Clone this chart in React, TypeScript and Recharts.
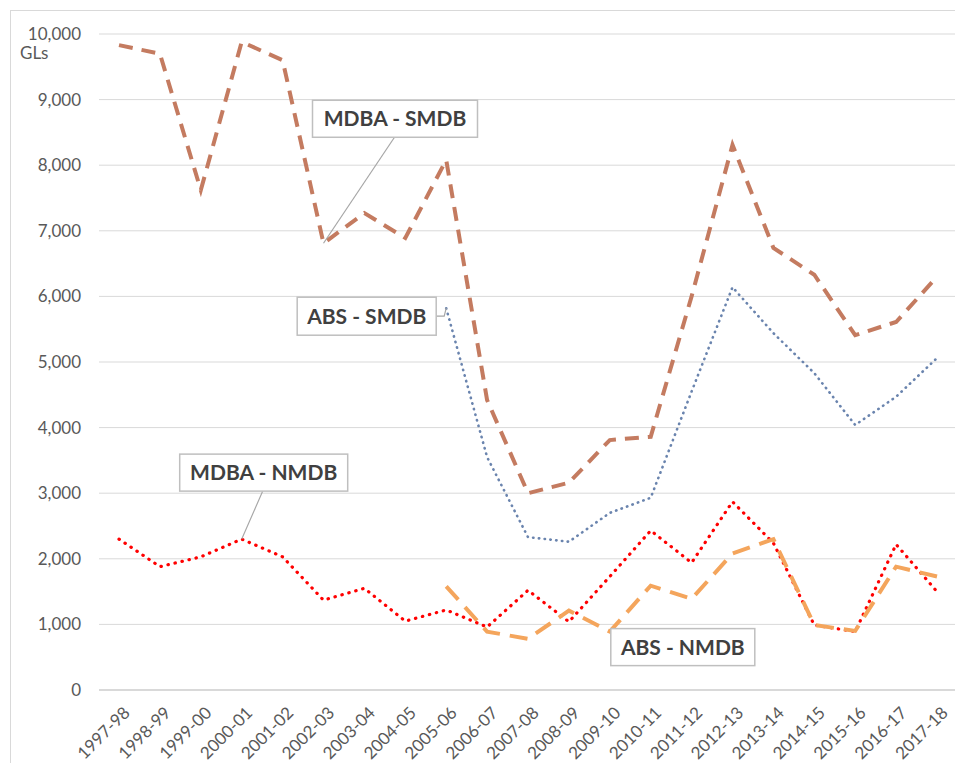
import React from 'react';
import { LineChart, Line, XAxis, YAxis, CartesianGrid } from 'recharts';

const years = [
  '1997-98', '1998-99', '1999-00', '2000-01', '2001-02', '2002-03', '2003-04',
  '2004-05', '2005-06', '2006-07', '2007-08', '2008-09', '2009-10', '2010-11',
  '2011-12', '2012-13', '2013-14', '2014-15', '2015-16', '2016-17', '2017-18',
];

const mdbaSmdb = [
  9830, 9700, 7620, 9880, 9600, 6810, 7270, 6890, 8080, 4420, 3000,
  3160, 3810, 3860, 6000, 8310, 6740, 6330, 5410, 5610, 6300,
];

const absSmdb = [
  null, null, null, null, null, null, null, null, 5820, 3550, 2330,
  2260, 2700, 2930, 4550, 6140, 5440, 4830, 4040, 4470, 5060,
];

const mdbaNmdb = [
  2300, 1880, 2030, 2300, 2030, 1370, 1550, 1050, 1220, 960, 1520,
  1040, 1730, 2430, 1940, 2870, 2240, 990, 890, 2220, 1500,
];

const absNmdb = [
  null, null, null, null, null, null, null, null, 1580, 890, 780,
  1210, 890, 1590, 1390, 2080, 2300, 990, 900, 1880, 1730,
];

const yTicks = [0, 1000, 2000, 3000, 4000, 5000, 6000, 7000, 8000, 9000, 10000];

const data = years.map((year, i) => ({
  year,
  mdbaSmdb: mdbaSmdb[i],
  absSmdb: absSmdb[i],
  mdbaNmdb: mdbaNmdb[i],
  absNmdb: absNmdb[i],
}));

const FONT = 'Lato, "Open Sans", sans-serif';
const TEXT = '#595959';

// callout box drawn next to one point of a series, offsets are relative to that point
const makeCallout = (
  target: number,
  text: string,
  box: { dx: number; dy: number; w: number; h: number },
  leader?: string
) => (props: any) => {
  const { x, y, index } = props;
  if (index !== target || x == null || y == null) return null;
  return (
    <g transform={`translate(${x},${y})`}>
      {leader && <path d={leader} fill="none" stroke="#A6A6A6" strokeWidth={1.2} />}
      <rect x={box.dx} y={box.dy} width={box.w} height={box.h} fill="#fff" stroke="#BFBFBF" strokeWidth={1.5} />
      <text
        x={box.dx + box.w / 2}
        y={box.dy + box.h / 2}
        dy="0.36em"
        textAnchor="middle"
        fontFamily={FONT}
        fontWeight="bold"
        fontSize={21}
        fill="#404040"
      >
        {text}
      </text>
    </g>
  );
};

const XTick = ({ x, y, payload }: any) => (
  <g transform={`translate(${x + 2},${y + 6})`}>
    <text x={0} y={0} dy={14} textAnchor="end" transform="rotate(-45)" fontFamily={FONT} fontSize={17} fill={TEXT}>
      {payload.value}
    </text>
  </g>
);

export default function App() {
  return (
    <div style={{ position: 'absolute', left: 0, top: 0, width: 955, height: 763, background: '#fff', overflow: 'hidden' }}>
      <div style={{ position: 'absolute', left: 10, top: 10, width: 960, height: 770, borderLeft: '1px solid #D9D9D9', borderTop: '1px solid #D9D9D9' }} />
      <div style={{ position: 'absolute', left: 20, top: 42, fontFamily: FONT, fontSize: 17, color: TEXT }}>GLs</div>
      <LineChart width={955} height={763} data={data} margin={{ top: 34, right: 0, bottom: 0, left: 0 }}>
        <CartesianGrid vertical={false} stroke="#D9D9D9" strokeWidth={1} />
        <XAxis
          dataKey="year"
          height={73}
          interval={0}
          padding={{ left: 20, right: 18 }}
          tickLine={false}
          axisLine={{ stroke: '#D9D9D9', strokeWidth: 2 }}
          tick={<XTick />}
        />
        <YAxis
          width={99}
          domain={[0, 10000]}
          ticks={yTicks}
          interval={0}
          tickLine={false}
          axisLine={false}
          tickMargin={12}
          tick={{ fontFamily: FONT, fontSize: 17, fill: TEXT }}
          tickFormatter={(v: number) => v.toLocaleString('en-US')}
        />
        <Line
          dataKey="mdbaSmdb"
          stroke="#C47B60"
          strokeWidth={4}
          strokeDasharray="14 9"
          dot={false}
          isAnimationActive={false}
          label={makeCallout(5, 'MDBA - SMDB', { dx: -11, dy: -143, w: 165, h: 37 }, 'M71,-106 L0,0')}
        />
        <Line
          dataKey="absSmdb"
          stroke="#6A84AE"
          strokeWidth={2.6}
          strokeLinecap="round"
          strokeDasharray="0.4 5.4"
          dot={false}
          isAnimationActive={false}
          label={makeCallout(8, 'ABS - SMDB', { dx: -149, dy: -11, w: 139, h: 38 }, 'M-10,8 L-2,8 L0,0')}
        />
        <Line
          dataKey="mdbaNmdb"
          stroke="#FF0000"
          strokeWidth={3.2}
          strokeLinecap="round"
          strokeDasharray="0.4 6.8"
          dot={false}
          isAnimationActive={false}
          label={makeCallout(3, 'MDBA - NMDB', { dx: -62, dy: -85, w: 168, h: 37 }, 'M21,-48 L0,0')}
        />
        <Line
          dataKey="absNmdb"
          stroke="#F4A55C"
          strokeWidth={4}
          strokeDasharray="18 10"
          dot={false}
          isAnimationActive={false}
          label={makeCallout(12, 'ABS - NMDB', { dx: 1, dy: -3, w: 144, h: 37 })}
        />
      </LineChart>
    </div>
  );
}
